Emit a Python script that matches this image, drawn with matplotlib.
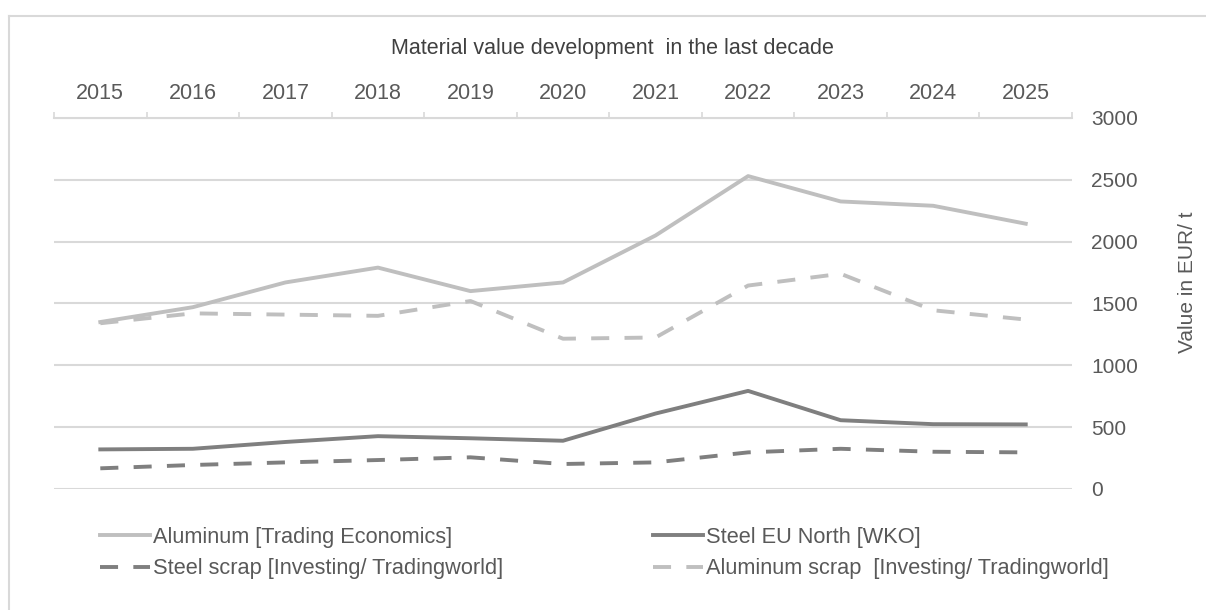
import matplotlib.pyplot as plt
from matplotlib.lines import Line2D

# Material prices in EUR/t
years = ["2015", "2016", "2017", "2018", "2019", "2020",
         "2021", "2022", "2023", "2024", "2025"]
aluminum = [1350, 1470, 1670, 1790, 1600, 1670, 2050, 2530, 2325, 2290, 2145]
aluminum_scrap = [1340, 1420, 1410, 1400, 1520, 1215, 1225, 1645, 1740, 1445, 1370]
steel = [320, 325, 380, 427, 410, 390, 610, 793, 556, 524, 522]
steel_scrap = [167, 194, 215, 234, 256, 202, 215, 296, 325, 301, 296]

plt.rcParams["font.family"] = ["Liberation Sans", "DejaVu Sans"]
plt.rcParams["lines.scale_dashes"] = False

text_col = "#595959"
grid_col = "#d9d9d9"
light = "#bfbfbf"
dark = "#7f7f7f"
dash = (0, (13, 11))

fig = plt.figure(figsize=(12.06, 6.10), dpi=100)
ax = fig.add_axes([0.0448, 0.1984, 0.8441, 0.6082])

x = list(range(len(years)))
l_alu, = ax.plot(x, aluminum, color=light, lw=2.8, label="Aluminum [Trading Economics]")
l_steel, = ax.plot(x, steel, color=dark, lw=2.8, label="Steel EU North [WKO]")
l_ssc, = ax.plot(x, steel_scrap, color=dark, lw=2.8, ls=dash,
                 label="Steel scrap [Investing/ Tradingworld]")
l_asc, = ax.plot(x, aluminum_scrap, color=light, lw=2.8, ls=dash,
                 label="Aluminum scrap  [Investing/ Tradingworld]")

ax.set_xlim(-0.5, len(years) - 0.5)
ax.set_ylim(0, 3000)
ax.set_yticks(range(0, 3001, 500))
ax.yaxis.tick_right()
ax.tick_params(axis="y", length=0, pad=14, labelsize=15, labelcolor=text_col)
ax.grid(axis="y", color=grid_col, lw=1.5)
ax.set_axisbelow(True)

# category axis on top, tick marks between categories
ax.xaxis.tick_top()
ax.set_xticks([i - 0.5 for i in range(len(years) + 1)])
ax.set_xticklabels([])
ax.set_xticks(x, minor=True)
ax.set_xticklabels(years, minor=True)
ax.tick_params(axis="x", which="major", length=4.5, width=1.2, color=grid_col, direction="out")
ax.tick_params(axis="x", which="minor", length=0, pad=10, labelsize=15.5, labelcolor=text_col)

for side in ["left", "right", "bottom"]:
    ax.spines[side].set_visible(False)
ax.spines["top"].set_color(grid_col)
ax.spines["top"].set_linewidth(1.5)

fig.text(0.5075, 0.921, "Material value development  in the last decade",
         ha="center", va="center", fontsize=15.5, color="#404040")
fig.text(0.985, 0.538, "Value in EUR/ t", rotation=90, ha="center", va="center",
         fontsize=15, color=text_col)

leg_font = {"family": ["Liberation Sans Narrow", "Liberation Sans"], "size": 15.7}
for handles, xpos in [([l_alu, l_ssc], 0.0829), ([l_steel, l_asc], 0.5415)]:
    leg = fig.legend(handles=handles, loc="center left", bbox_to_anchor=(xpos, 0.0935),
                     frameon=False, borderpad=0, borderaxespad=0, prop=leg_font,
                     handlelength=2.3, handletextpad=0.14, labelspacing=0.48)
    for t in leg.get_texts():
        t.set_color(text_col)

# light frame lines on top and left edges
fig.add_artist(Line2D([9 / 1206, 1], [1 - 16 / 610] * 2, color=grid_col, lw=1.5,
                      transform=fig.transFigure))
fig.add_artist(Line2D([9 / 1206] * 2, [0, 1 - 16 / 610], color=grid_col, lw=1.5,
                      transform=fig.transFigure))

fig.savefig("out.png", dpi=100)
